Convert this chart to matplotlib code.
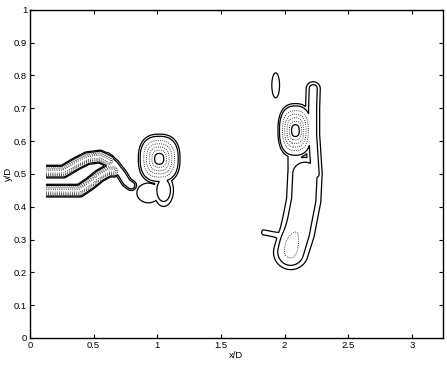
import numpy as np
import matplotlib
matplotlib.use("Agg")
import matplotlib.pyplot as plt

plt.rcParams["font.family"] = ["Liberation Sans", "DejaVu Sans"]

# vortex cores (cone-shaped): centre, outer radius (x/D, y/D), peak level
vortex_x = [1.015, 2.085]
vortex_y = [0.546, 0.632]
vortex_rx = [0.185, 0.155]
vortex_ry = [0.085, 0.093]
vortex_peak = [1.3, 1.3]

# smaller patches (gaussian): centre, spread, peak level
patch_x = [1.05, 0.93, 1.93]
patch_y = [0.45, 0.442, 0.77]
patch_sx = [0.055, 0.093, 0.04]
patch_sy = [0.035, 0.031, 0.05]
patch_amp = [0.40, 0.24, 0.20]

# weak bump sitting on top of the lower body
bump_x = [2.04]
bump_y = [0.28]
bump_sx = [0.05]
bump_sy = [0.03]
bump_amp = [0.15]

# shear layers / filaments as centre lines
upper_layer_x = [0.05, 0.26, 0.36, 0.45, 0.55, 0.62]
upper_layer_y = [0.507, 0.507, 0.53, 0.548, 0.553, 0.54]
lower_layer_x = [0.05, 0.39, 0.47, 0.55, 0.62, 0.66]
lower_layer_y = [0.449, 0.449, 0.47, 0.495, 0.51, 0.51]
hook_x = [0.60, 0.66, 0.72, 0.76, 0.795]
hook_y = [0.55, 0.53, 0.50, 0.475, 0.465]
finger_x = [2.24, 2.22, 2.22, 2.225]
finger_y = [0.50, 0.62, 0.70, 0.76]
body_x = [2.16, 2.15, 2.10, 2.05]
body_y = [0.50, 0.42, 0.32, 0.26]
neck_x = [2.08, 2.08]
neck_y = [0.48, 0.58]
spike_x = [1.835, 1.99]
spike_y = [0.322, 0.31]

ridge_amp = [0.82, 0.82, 0.40, 0.32, 0.42, 0.20, 0.20]
ridge_wx = [0.027, 0.027, 0.030, 0.045, 0.094, 0.070, 0.020]
ridge_wy = [0.0105, 0.0105, 0.011, 0.017, 0.035, 0.020, 0.010]

levels = [0.15, 0.25, 0.45, 0.6, 0.75, 0.9, 1.05]
dot = (0, (1, 1.6))
styles = ["-", "-", dot, dot, dot, dot, "-"]
widths = [0.9, 0.9, 0.6, 0.6, 0.6, 0.6, 0.9]

xg = np.linspace(0.126, 3.24, 900)
yg = np.linspace(0.0, 1.0, 600)
X, Y = np.meshgrid(xg, yg)


def ridge(px, py, wx, wy, amp):
    xs, ys = X / wx, Y / wy
    d2 = np.full(X.shape, np.inf)
    for i in range(len(px) - 1):
        ax_, ay_ = px[i] / wx, py[i] / wy
        vx, vy = px[i + 1] / wx - ax_, py[i + 1] / wy - ay_
        t = np.clip(((xs - ax_) * vx + (ys - ay_) * vy) / (vx * vx + vy * vy), 0, 1)
        d2 = np.minimum(d2, (xs - ax_ - t * vx) ** 2 + (ys - ay_ - t * vy) ** 2)
    return amp * np.exp(-d2 / 2)


Z = np.zeros_like(X)
for cx, cy, rx, ry, a in zip(vortex_x, vortex_y, vortex_rx, vortex_ry, vortex_peak):
    # slightly boxy rings, like the measured ones
    r = (np.abs((X - cx) / rx) ** 2.5 + np.abs((Y - cy) / ry) ** 2.5) ** (1 / 2.5)
    Z = np.maximum(Z, a * np.clip(1 - r, 0, None))
for bx, by, sx, sy, a in zip(patch_x, patch_y, patch_sx, patch_sy, patch_amp):
    Z = np.maximum(Z, a * np.exp(-((X - bx) / sx) ** 2 / 2 - ((Y - by) / sy) ** 2 / 2))
paths = [(upper_layer_x, upper_layer_y), (lower_layer_x, lower_layer_y), (hook_x, hook_y),
         (finger_x, finger_y), (body_x, body_y), (neck_x, neck_y), (spike_x, spike_y)]
for (px, py), a, wx, wy in zip(paths, ridge_amp, ridge_wx, ridge_wy):
    Z = np.maximum(Z, ridge(px, py, wx, wy, a))
for bx, by, sx, sy, a in zip(bump_x, bump_y, bump_sx, bump_sy, bump_amp):
    Z = Z + a * np.exp(-((X - bx) / sx) ** 2 / 2 - ((Y - by) / sy) ** 2 / 2)

fig = plt.figure(figsize=(4.47, 3.65), dpi=100)
ax = fig.add_axes([0.067, 0.074, 0.924, 0.899])
ax.contour(X, Y, Z, levels=levels, colors="black", linestyles=styles, linewidths=widths)

ax.set_xlim(0, 3.244)
ax.set_ylim(0, 1)
ax.set_xticks([0, 0.5, 1, 1.5, 2, 2.5, 3])
ax.set_xticklabels(["0", "0.5", "1", "1.5", "2", "2.5", "3"])
ax.set_yticks(np.arange(0, 1.01, 0.1))
ax.set_yticklabels(["0", "0.1", "0.2", "0.3", "0.4", "0.5", "0.6", "0.7", "0.8", "0.9", "1"])
ax.tick_params(direction="in", top=True, right=True, length=3, width=0.8, labelsize=6.8, pad=2)
for s in ax.spines.values():
    s.set_linewidth(1.0)
ax.set_xlabel("x/D", fontsize=6.8, labelpad=1)
ax.set_ylabel("y/D", fontsize=6.8, labelpad=1)

fig.savefig("out.png", dpi=100, facecolor="white")
